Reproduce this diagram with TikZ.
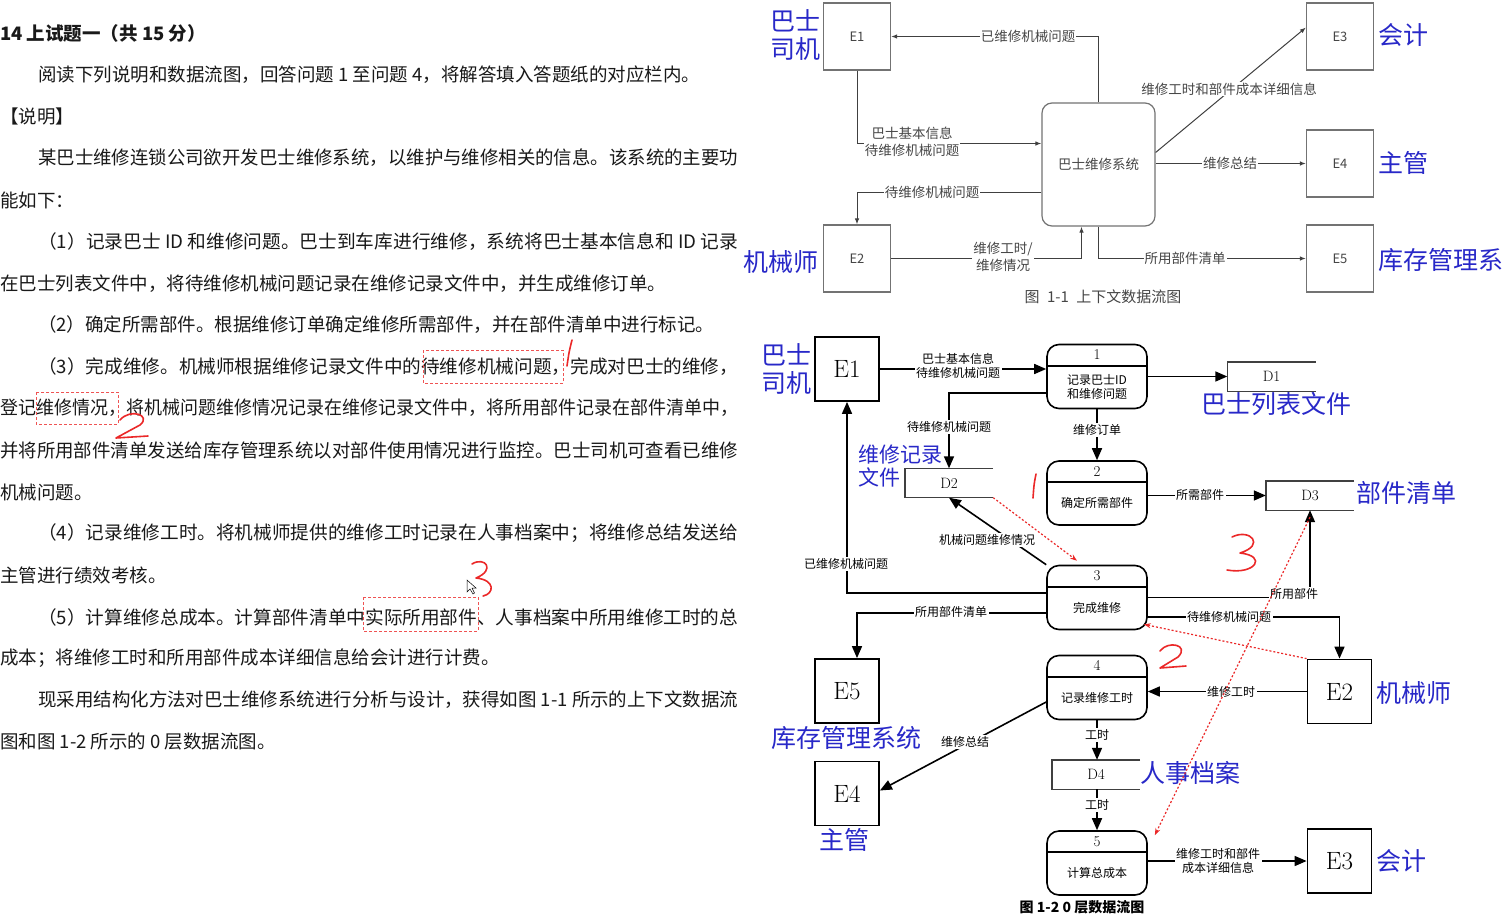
\documentclass[tikz,border=0pt]{standalone}
\usepackage{fontspec}
\usepackage{graphicx}
\newfontfamily\cjk{Noto Sans CJK SC}
\usetikzlibrary{arrows.meta}
\definecolor{penblue}{RGB}{40,40,200}
\definecolor{penred}{RGB}{235,40,40}
\definecolor{tgray}{RGB}{70,70,70}

\begin{document}
\begin{tikzpicture}[x=1pt, y=-1pt,
  txt/.style={anchor=west, inner sep=0pt, font={\cjk\fontsize{18.5}{20}\selectfont}, text=black!90},
  note/.style={inner sep=0pt, align=center, text=penblue, font={\cjk\fontsize{25}{28}\selectfont}},
  ent/.style={draw, line width=1.8pt, minimum width=64pt, minimum height=64pt, inner sep=0pt, font=\fontsize{25}{25}\selectfont},
  proc/.style={draw, line width=1.6pt, rounded corners=12pt, minimum width=100pt, minimum height=64pt, inner sep=0pt},
  pnum/.style={inner sep=0pt, font=\fontsize{15}{15}\selectfont},
  ptxt/.style={inner sep=0pt, align=center, font={\cjk\fontsize{12}{14}\selectfont}},
  store/.style={minimum width=88pt, minimum height=29pt, inner sep=0pt, font=\fontsize{15}{15}\selectfont},
  lb/.style={fill=white, inner sep=1.5pt, align=center, font={\cjk\fontsize{12}{14}\selectfont}},
  arr/.style={line width=1.6pt, -{Triangle[length=12pt,width=10pt]}},
  tent/.style={draw=black!55, line width=1.2pt, minimum width=67pt, minimum height=67pt, inner sep=0pt, text=tgray, font={\cjk\fontsize{13}{13}\selectfont}},
  tlb/.style={fill=white, inner sep=1pt, align=center, text=tgray, font={\cjk\fontsize{13.5}{17}\selectfont}},
  tarr/.style={draw=black!75, line width=1pt, -{Latex[length=6pt,width=4.5pt]}},
  redbox/.style={draw=penred!80, line width=1pt, dash pattern=on 3pt off 2pt},
  reddot/.style={draw=penred, line width=1.2pt, dash pattern=on 2pt off 2pt, -{Stealth[length=7pt,width=5pt]}},
  ink/.style={draw=penred, line width=1.6pt, line cap=round, line join=round}]
\useasboundingbox (0,0) rectangle (1512,921);
\fill[white] (0,0) rectangle (1512,921);

% question text
\node[txt] (l0) at (0,33) {\bfseries 14 上试题一（共 15 分）};
\node[txt] (l1) at (38,75) {阅读下列说明和数据流图，回答问题 1 至问题 4，将解答填入答题纸的对应栏内。};
\node[txt] (l2) at (0,116) {【说明】};
\node[txt] (l3) at (38,158) {\resizebox{700pt}{\height}{某巴士维修连锁公司欲开发巴士维修系统，以维护与维修相关的信息。该系统的主要功}};
\node[txt] (l4) at (0,200) {能如下：};
\node[txt] (l5) at (38,242) {\resizebox{700pt}{\height}{（1）记录巴士 ID 和维修问题。巴士到车库进行维修，系统将巴士基本信息和 ID 记录}};
\node[txt] (l6) at (0,284) {在巴士列表文件中，将待维修机械问题记录在维修记录文件中，并生成维修订单。};
\node[txt] (l7) at (38,325) {（2）确定所需部件。根据维修订单确定维修所需部件，并在部件清单中进行标记。};
\node[txt] (l8) at (38,367) {\resizebox{700pt}{\height}{（3）完成维修。机械师根据维修记录文件中的待维修机械问题，完成对巴士的维修，}};
\node[txt] (l9) at (0,408) {\resizebox{738pt}{\height}{登记维修情况，将机械问题维修情况记录在维修记录文件中，将所用部件记录在部件清单中，}};
\node[txt] (l10) at (0,450) {\resizebox{738pt}{\height}{并将所用部件清单发送给库存管理系统以对部件使用情况进行监控。巴士司机可查看已维修}};
\node[txt] (l11) at (0,492) {机械问题。};
\node[txt] (l12) at (38,533) {\resizebox{700pt}{\height}{（4）记录维修工时。将机械师提供的维修工时记录在人事档案中；将维修总结发送给}};
\node[txt] (l13) at (0,575) {主管进行绩效考核。};
\node[txt] (l14) at (38,617) {\resizebox{700pt}{\height}{（5）计算维修总成本。计算部件清单中实际所用部件、人事档案中所用维修工时的总}};
\node[txt] (l15) at (0,658) {成本；将维修工时和所用部件成本详细信息给会计进行计费。};
\node[txt] (l16) at (38,700) {\resizebox{700pt}{\height}{现采用结构化方法对巴士维修系统进行分析与设计，获得如图 1-1 所示的上下文数据流}};
\node[txt] (l17) at (0,742) {图和图 1-2 所示的 0 层数据流图。};

% red marks on the text
\draw[redbox] (423,350) rectangle (563,383);
\draw[redbox] (36,392) rectangle (118,424);
\draw[redbox] (363,597) rectangle (478,631);
\draw[ink] (572,340) .. controls (569,352) .. (567,366);
\draw[ink] (120,420) .. controls (130,408) and (152,415) .. (140,425) -- (116,438) -- (148,436);
\draw[ink] (472,564) .. controls (485,556) and (496,570) .. (476,578) .. controls (496,580) and (494,594) .. (483,596);
\draw[black, fill=white, line width=0.5pt] (467,580) -- (467,592) -- (470,589) -- (473,594) -- (474.5,593) -- (472,588) -- (476,588) -- cycle;

% fig 1-1
\node[tent] (te1) at (857,36.5) {E1};
\node[tent] (te3) at (1340,36.5) {E3};
\node[tent] (te4) at (1340,163.5) {E4};
\node[tent] (te5) at (1340,258.5) {E5};
\node[tent] (te2) at (857,258.5) {E2};
\node[draw=black!55, line width=1.2pt, rounded corners=10pt, minimum width=113pt, minimum height=123pt, text=tgray, font={\cjk\fontsize{13.5}{16}\selectfont}] (sys) at (1098.5,164.5) {巴士维修系统};
\draw[tarr] (sys.north) |- (te1.east);
\draw[tarr] (te1.south) |- ([yshift=21pt]sys.west);
\draw[tarr] ([yshift=-28pt]sys.west) -| (te2.north);
\draw[tarr] (te2.east) -| ([xshift=-17pt]sys.south);
\draw[tarr] ([yshift=12pt]sys.east) -- ([yshift=9pt]te3.west);
\draw[tarr] (sys.east |- te4.west) -- (te4.west);
\draw[tarr] (sys.south) |- (te5.west);
\node[tlb] (tl1) at (1028,36.5) {已维修机械问题};
\node[tlb] (tl2) at (912,142) {巴士基本信息\\待维修机械问题};
\node[tlb] (tl3) at (932,192.5) {待维修机械问题};
\node[tlb] (tl4) at (1003,257) {维修工时/\\维修情况};
\node[tlb] (tl5) at (1229,89) {维修工时和部件成本详细信息};
\node[tlb] (tl6) at (1230,163.5) {维修总结};
\node[tlb] (tl7) at (1185,258.5) {所用部件清单};
\node[tlb, font={\cjk\fontsize{15}{15}\selectfont}] (cap1) at (1103,297) {图\enspace 1-1\enspace 上下文数据流图};
\node[note] (n1) at (795,35) {巴士\\司机};
\node[note] (n2) at (1403,35) {会计};
\node[note] (n3) at (1403,163) {主管};
\node[note, anchor=west] (n4) at (1378,260) {库存管理系};
\node[note] (n5) at (781,262) {机械师};

% fig 1-2
\node[ent] (e1) at (847,369) {E1};
\node[proc] (p1) at (1097,376.5) {};
\node[store] (d1) at (1271.5,376.5) {D1};
\node[store] (d2) at (949,483) {D2};
\node[proc] (p2) at (1097,493) {};
\node[store] (d3) at (1310,495.5) {D3};
\node[proc] (p3) at (1097,597.5) {};
\node[ent] (e5) at (847,691) {E5};
\node[ent] (e4) at (847,793.5) {E4};
\node[proc] (p4) at (1097,687.5) {};
\node[ent] (e2) at (1339.5,691.5) {E2};
\node[store] (d4) at (1096,774.5) {D4};
\node[proc] (p5) at (1097,863) {};
\node[ent] (e3) at (1339.5,861) {E3};
\foreach \p/\nm/\tx in {p1/1/{记录巴士ID\\和维修问题}, p2/2/确定所需部件, p3/3/完成维修, p4/4/记录维修工时, p5/5/计算总成本} {
  \draw[line width=1.6pt] ([yshift=-22pt]\p.north west) -- ([yshift=-22pt]\p.north east);
  \node[pnum] (\p-num) at ([yshift=-11pt]\p.north) {\nm};
  \node[ptxt] (\p-txt) at ([yshift=-43pt]\p.north) {\tx};
}
\foreach \d in {d1,d2,d3,d4}
  \draw[line width=1.4pt, black!75] (\d.north east) -- (\d.north west) -- (\d.south west) -- (\d.south east);

\draw[arr] (e1.east) -- (e1.east -| p1.west);
\draw[arr] (p1.east |- d1.west) -- (d1.west);
\draw[arr] ([yshift=-16.5pt]p1.west) -| (d2.north);
\draw[arr] (p1.south) -- (p2.north);
\draw[arr] (p2.east |- d3.west) -- (d3.west);
\draw[arr] (p3.north west) -- (d2.south);
\draw[arr] ([yshift=4.5pt]p3.west) -| (e1.south);
\draw[arr] ([yshift=-15.5pt]p3.west) -| ([xshift=10pt]e5.north);
\draw[arr] (p3.east) -| (d3.south);
\draw[arr] ([yshift=-19.5pt]p3.east) -| (e2.north);
\draw[arr] (e2.west) -- (e2.west -| p4.east);
\draw[arr] ([yshift=-14.5pt]p4.west) -- ([yshift=3pt]e4.east);
\draw[arr] (p4.south) -- (p4.south |- d4.north);
\draw[arr] (p5.north |- d4.south) -- (p5.north);
\draw[arr] (p5.east |- e3.west) -- (e3.west);

\node[lb] (b1) at (958,366) {巴士基本信息\\待维修机械问题};
\node[lb] (b2) at (949,427) {待维修机械问题};
\node[lb] (b3) at (1097,430) {维修订单};
\node[lb] (b4) at (1200,495) {所需部件};
\node[lb] (b5) at (987,540) {机械问题维修情况};
\node[lb] (b6) at (846,564) {已维修机械问题};
\node[lb] (b7) at (951,612) {所用部件清单};
\node[lb] (b8) at (1294,594) {所用部件};
\node[lb] (b9) at (1229,617) {待维修机械问题};
\node[lb] (b10) at (1231,692) {维修工时};
\node[lb] (b11) at (965,742) {维修总结};
\node[lb] (b12) at (1097,735) {工时};
\node[lb] (b13) at (1097,805) {工时};
\node[lb] (b14) at (1218,861) {维修工时和部件\\成本详细信息};
\node[inner sep=0pt, font={\cjk\bfseries\fontsize{14}{14}\selectfont}] (cap2) at (1082,907) {图 1-2 0 层数据流图};

\node[note] (m1) at (786,369) {巴士\\司机};
\node[note] (m2) at (1276,404) {巴士列表文件};
\node[note, anchor=west, align=left, font={\cjk\fontsize{21}{23}\selectfont}] (m3) at (858,466) {维修记录\\文件};
\node[note, anchor=west] (m4) at (1356,493) {部件清单};
\node[note] (m5) at (846,738) {库存管理系统};
\node[note] (m6) at (844,840) {主管};
\node[note, anchor=west] (m7) at (1376,693) {机械师};
\node[note, anchor=west] (m8) at (1140,773) {人事档案};
\node[note, anchor=west] (m9) at (1376,861) {会计};

% red marks on fig 1-2
\draw[reddot] (d2.south east) -- ([xshift=-20pt,yshift=4pt]p3.north);
\draw[reddot] (e2.north west) -- ([xshift=-4pt,yshift=6pt]p3.south east);
\draw[reddot] ([yshift=-7pt]d3.south) -- ([xshift=7pt,yshift=-5pt]p5.north east);
\draw[ink] (1036,474) .. controls (1034,484) .. (1033,498);
\draw[ink] (1232,537) .. controls (1250,528) and (1266,545) .. (1240,553) .. controls (1268,556) and (1255,575) .. (1227,570);
\draw[ink] (1160,651) .. controls (1168,640) and (1190,645) .. (1178,657) -- (1160,668) -- (1186,666);
\end{tikzpicture}
\end{document}
